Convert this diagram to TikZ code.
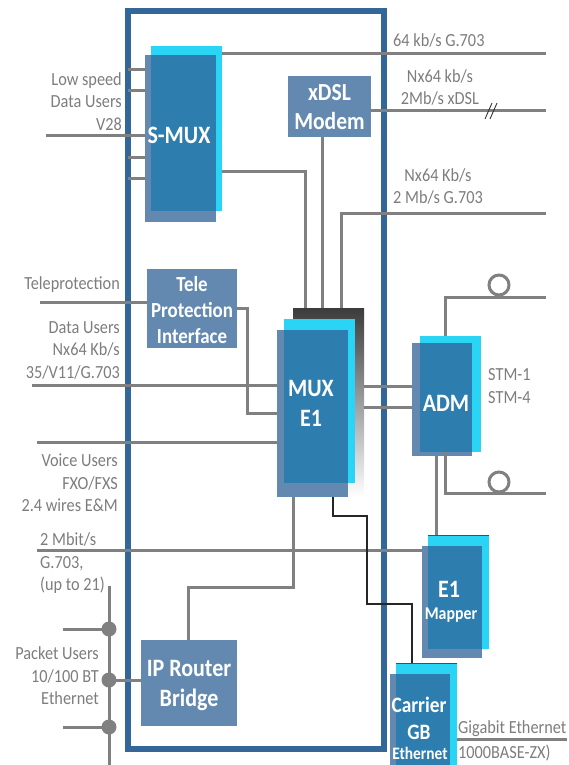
\documentclass[tikz,border=0pt]{standalone}
\usepackage{fontspec}
\setmainfont{Carlito}[FakeStretch=0.88]
\usetikzlibrary{calc}

\definecolor{frameblue}{RGB}{51,102,153}
\definecolor{steelblue}{RGB}{99,137,176}
\definecolor{skyblue}{RGB}{42,212,244}
\definecolor{deepblue}{RGB}{46,125,175}
\definecolor{wiregray}{RGB}{128,128,128}
\definecolor{textgray}{RGB}{125,125,125}
\definecolor{darkbar}{RGB}{60,60,60}

\tikzset{
  wire/.style={draw=wiregray, line width=3pt},
  thinwire/.style={draw=black!85, line width=1.1pt},
  blk/.style={inner sep=0pt, outer sep=0pt},
  backbox/.style={blk, fill=steelblue},
  lightbox/.style={blk, fill=skyblue},
  frontbox/.style={blk, fill=deepblue},
  boxtext/.style={text=white, inner sep=0pt, align=center, font=\bfseries\fontsize{25}{30}\selectfont},
  info/.style={text=textgray, inner sep=0pt, font=\fontsize{18.5}{22.5}\selectfont},
}

\begin{document}
\begin{tikzpicture}[x=1pt,y=-1pt]
  \useasboundingbox (0,0) rectangle (569,765);

  \draw[frameblue, line width=6pt] (128,11) rectangle (384,749);

  % S-MUX
  \node[backbox, minimum width=71pt, minimum height=167pt] (smuxback) at (180.5,138.5) {};
  \node[lightbox, minimum width=71pt, minimum height=165pt] (smuxlight) at (186.5,128.5) {};
  \node[frontbox, minimum width=65pt, minimum height=156pt] (smux) at (183.5,133) {};
  \node[boxtext] (smuxtxt) at (179,135) {S-MUX};

  % xDSL, tele protection, IP router
  \node[backbox, minimum width=83pt, minimum height=61pt] (xdsl) at (329.5,106.5) {};
  \node[boxtext, font=\bfseries\fontsize{24.5}{29}\selectfont] (xdsltxt) at (329.5,107) {xDSL\\Modem};
  \node[backbox, minimum width=90pt, minimum height=79pt] (tp) at (192,308.5) {};
  \node[boxtext, font=\bfseries\fontsize{21.5}{26}\selectfont] (tptxt) at (192,310) {Tele\\Protection\\Interface};
  \node[backbox, minimum width=96pt, minimum height=86pt] (ip) at (189,683) {};
  \node[boxtext, font=\bfseries\fontsize{25}{30}\selectfont] (iptxt) at (189,686) {IP Router\\Bridge};

  % MUX E1
  \node[blk, minimum width=71pt, minimum height=189pt, top color=darkbar, middle color=darkbar!75, bottom color=white] (muxshade) at (328.5,402.5) {};
  \node[lightbox, minimum width=71pt, minimum height=164pt] (muxlight) at (319.5,401) {};
  \node[backbox, minimum width=71pt, minimum height=167pt] (muxback) at (312.5,413.5) {};
  \node[frontbox, minimum width=64pt, minimum height=153pt] (mux) at (316,406.5) {};
  \node[boxtext] (muxtxt) at (311,403) {MUX\\E1};

  % ADM
  \node[backbox, minimum width=60pt, minimum height=113pt] (admback) at (442,399.5) {};
  \node[lightbox, minimum width=61pt, minimum height=116pt] (admlight) at (450.5,394) {};
  \node[frontbox, minimum width=52pt, minimum height=109pt] (adm) at (446,397.5) {};
  \node[boxtext] (admtxt) at (446,403) {ADM};

  % E1 mapper
  \node[backbox, minimum width=60pt, minimum height=112pt] (e1back) at (452,602) {};
  \node[lightbox, minimum width=61pt, minimum height=114pt] (e1light) at (458.5,592) {};
  \node[frontbox, minimum width=54pt, minimum height=103pt] (e1) at (455,597.5) {};
  \draw[red, line width=1pt] (e1light.north west) -- (e1light.north east);
  \node[boxtext] (e1txt) at (449,589) {E1};
  \node[boxtext, font=\bfseries\fontsize{18}{20}\selectfont] (mappertxt) at (451,615) {Mapper};

  % Carrier GB
  \node[backbox, minimum width=60pt, minimum height=96pt] (gbback) at (420,722) {};
  \node[lightbox, minimum width=61pt, minimum height=107pt] (gblight) at (426.5,716.5) {};
  \node[frontbox, minimum width=54pt, minimum height=96pt] (gb) at (423,722) {};
  \draw[red, line width=1pt] (gblight.north west) -- (gblight.north east);
  \node[boxtext, font=\bfseries\fontsize{22}{27}\selectfont] (gbtxt) at (419,718) {Carrier\\GB};
  \node[boxtext, font=\bfseries\fontsize{17.5}{20}\selectfont] (ethtxt) at (420,753) {Ethernet};

  % wires
  \foreach \y in {70,91,135,157,178}
    \draw[wire] (128,\y) -- (smuxback.west |- 0,\y);
  \draw[wire] (46,135) -- (128,135);
  \draw[wire] (smuxlight.east |- 0,54) -- (546,54);
  \draw[wire] (xdsl.east |- 0,111) -- (546,111);
  \draw[black!80, line width=0.9pt] (485,119) -- (492,103) (490,119) -- (497,103);

  \coordinate (sbend) at (305,171);
  \coordinate (gbend) at (341,213);
  \draw[wire] (smuxlight.east |- sbend) -- (sbend) -- (muxshade.north -| sbend);
  \draw[wire] (xdsl.south -| 322,0) -- (muxshade.north -| 322,0);
  \draw[wire] (546,213) -- (gbend) -- (muxshade.north -| gbend);

  \coordinate (tpa) at (247,308);
  \coordinate (tpb) at (247,413);
  \draw[wire] (40,302) -- (tp.west |- 0,302);
  \draw[wire] (tp.east |- tpa) -- (tpa) -- (tpb) -- (muxback.west |- tpb);
  \draw[wire] (32,385) -- (muxback.west |- 0,385);
  \draw[wire] (37,442) -- (muxback.west |- 0,442);
  \draw[wire] (37,550) -- (e1back.west |- 0,550);

  \coordinate (ipa) at (293,587);
  \coordinate (ipb) at (188,587);
  \draw[wire] (muxback.south -| ipa) -- (ipa) -- (ipb) -- (ip.north -| ipb);
  \coordinate (gba) at (333,516);
  \coordinate (gbb) at (367,516);
  \coordinate (gbc) at (367,604);
  \coordinate (gbd) at (412,604);
  \draw[thinwire] (muxback.south -| gba) -- (gba) -- (gbb) -- (gbc) -- (gbd) -- (gblight.north -| gbd);

  \draw[wire] (muxshade.east |- 0,386) -- (admback.west |- 0,386);
  \draw[wire] (muxshade.east |- 0,407) -- (admback.west |- 0,407);

  \coordinate (ringa) at (445,297);
  \coordinate (ringb) at (445,493);
  \draw[wire] (admlight.north -| ringa) -- (ringa) -- (546,297);
  \draw[wire] (admlight.south -| ringb) -- (ringb) -- (546,493);
  \draw[wire, fill=white] (499,285) circle (10pt);
  \draw[wire, fill=white] (499,482) circle (10pt);
  \draw[wire] (admback.south -| 436,0) -- (e1light.north -| 436,0);

  % packet users bus
  \coordinate (busa) at (109,629);
  \coordinate (busb) at (109,680);
  \coordinate (busc) at (109,727);
  \draw[wire] (109,586) -- (109,765);
  \draw[wire] (63,629) -- (busa);
  \draw[wire] (busb) -- (ip.west |- busb);
  \draw[wire] (63,727) -- (busc);
  \foreach \p in {busa,busb,busc}
    \fill[wiregray] (\p) circle (7.5pt);

  % texts
  \node[info, anchor=west] (t64) at (393,40) {64 kb/s G.703};
  \node[info, align=center] (txdsl) at (440,87.5) {Nx64 kb/s\\2Mb/s xDSL};
  \node[info, align=center] (tg703) at (438,186.5) {Nx64 Kb/s\\2 Mb/s G.703};
  \node[info, align=right, anchor=east] (tlow) at (122,101.5) {Low speed\\Data Users\\V28};
  \node[info, anchor=east] (ttele) at (120,285) {Teleprotection};
  \node[info, align=right, anchor=east] (tdata) at (120,350) {Data Users\\Nx64 Kb/s\\35/V11/G.703};
  \node[info, align=right, anchor=east] (tvoice) at (118,483) {Voice Users\\FXO/FXS\\2.4 wires E\&M};
  \node[info, align=left, anchor=west] (t2m) at (40,563.5) {2 Mbit/s\\G.703,\\(up to 21)};
  \node[info, align=right, anchor=east] (tpacket) at (99,676) {Packet Users\\10/100 BT\\Ethernet};
  \node[info, align=left, anchor=west] (tstm) at (488,386) {STM-1\\STM-4};
  \node[info, anchor=west] (tgig) at (458,729) {Gigabit Ethernet};
  \node[info, anchor=west] (tzx) at (458,753) {1000BASE-ZX)};
  \draw[wire] (457,739) -- (567,739);
\end{tikzpicture}
\end{document}
